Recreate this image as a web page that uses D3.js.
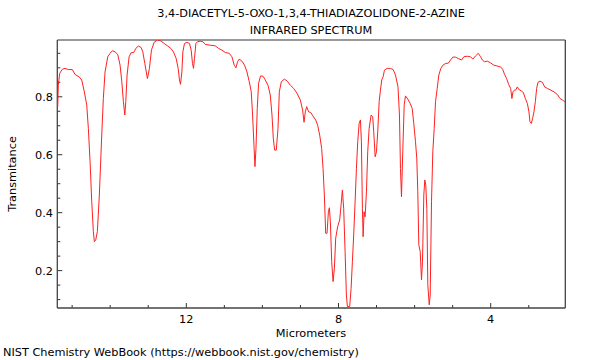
<!DOCTYPE html>
<html><head><meta charset="utf-8">
<script src="https://cdn.jsdelivr.net/npm/d3@7"></script>
<style>
body{margin:0;background:#fff}
text{font-family:"DejaVu Sans",sans-serif;font-size:11.3px;fill:#000}
</style></head>
<body><svg id="c" width="600" height="360"></svg>
<script>
const titleLines = ["3,4-DIACETYL-5-OXO-1,3,4-THIADIAZOLIDONE-2-AZINE", "INFRARED SPECTRUM"];
const xLabel = "Micrometers";
const yLabel = "Transmitance";
const footer = "NIST Chemistry WebBook (https://webbook.nist.gov/chemistry)";
const xTicks = [12, 8, 4];
const yTicks = [0.2, 0.4, 0.6, 0.8];

const micrometers = [15.379,15.364,15.327,15.258,15.187,15.101,14.995,14.924,14.819,14.748,14.679,14.616,14.574,14.529,14.485,14.443,14.416,14.380,14.337,14.285,14.222,14.180,14.135,14.064,14.003,13.943,13.872,13.801,13.740,13.695,13.653,13.616,13.590,13.556,13.503,13.451,13.380,13.327,13.258,13.187,13.143,13.090,13.022,12.969,12.916,12.845,12.758,12.669,12.582,12.495,12.406,12.337,12.266,12.214,12.179,12.153,12.116,12.090,12.048,11.985,11.916,11.872,11.837,11.811,11.785,11.748,11.706,11.635,11.564,11.503,11.372,11.240,11.153,11.064,10.977,10.872,10.801,10.740,10.695,10.653,10.608,10.537,10.469,10.406,10.345,10.293,10.258,10.222,10.195,10.169,10.135,10.101,10.048,9.985,9.924,9.853,9.793,9.748,9.714,9.679,9.635,9.590,9.556,9.503,9.424,9.345,9.266,9.179,9.090,9.003,8.943,8.906,8.872,8.837,8.785,8.732,8.674,8.600,8.548,8.495,8.443,8.406,8.372,8.337,8.301,8.266,8.240,8.214,8.179,8.143,8.108,8.074,8.022,7.969,7.932,7.898,7.864,7.827,7.793,7.766,7.706,7.669,7.635,7.601,7.564,7.529,7.495,7.458,7.424,7.398,7.372,7.353,7.327,7.301,7.266,7.232,7.195,7.143,7.101,7.074,7.037,7.003,6.969,6.932,6.898,6.864,6.827,6.793,6.722,6.635,6.564,6.503,6.437,6.398,6.372,6.345,6.311,6.274,6.240,6.179,6.116,6.064,6.022,5.977,5.943,5.916,5.890,5.853,5.819,5.793,5.758,5.732,5.706,5.679,5.653,5.616,5.590,5.556,5.522,5.485,5.451,5.406,5.364,5.311,5.258,5.187,5.116,5.056,4.995,4.924,4.853,4.766,4.706,4.616,4.529,4.469,4.398,4.327,4.266,4.214,4.161,4.090,4.003,3.916,3.827,3.740,3.687,3.635,3.582,3.529,3.477,3.443,3.416,3.379,3.345,3.301,3.258,3.195,3.143,3.090,3.037,2.995,2.969,2.932,2.898,2.864,2.827,2.793,2.758,2.706,2.643,2.582,2.511,2.424,2.337,2.248,2.179,2.116,2.056,2.022];
const transmittance = [0.766,0.840,0.881,0.895,0.898,0.894,0.894,0.877,0.869,0.858,0.817,0.771,0.691,0.576,0.438,0.335,0.300,0.306,0.335,0.461,0.668,0.794,0.886,0.938,0.950,0.959,0.955,0.946,0.909,0.852,0.783,0.737,0.783,0.875,0.938,0.952,0.953,0.967,0.975,0.970,0.955,0.915,0.863,0.898,0.961,0.988,0.996,0.993,0.984,0.976,0.967,0.955,0.932,0.898,0.858,0.843,0.886,0.955,0.984,0.988,0.984,0.961,0.915,0.898,0.932,0.984,0.990,0.992,0.990,0.981,0.978,0.976,0.967,0.961,0.953,0.950,0.938,0.909,0.900,0.921,0.930,0.923,0.909,0.886,0.852,0.817,0.737,0.633,0.559,0.622,0.760,0.846,0.872,0.871,0.858,0.840,0.806,0.737,0.657,0.616,0.616,0.691,0.817,0.852,0.861,0.854,0.840,0.829,0.812,0.789,0.754,0.712,0.748,0.766,0.748,0.746,0.734,0.720,0.702,0.668,0.622,0.553,0.461,0.329,0.329,0.403,0.417,0.369,0.231,0.162,0.208,0.312,0.352,0.375,0.427,0.478,0.415,0.266,0.116,0.076,0.076,0.139,0.231,0.323,0.438,0.553,0.645,0.708,0.720,0.645,0.415,0.317,0.403,0.386,0.472,0.610,0.691,0.737,0.731,0.679,0.593,0.610,0.679,0.783,0.823,0.858,0.869,0.892,0.898,0.898,0.894,0.875,0.835,0.737,0.553,0.455,0.610,0.771,0.803,0.792,0.777,0.760,0.708,0.645,0.588,0.472,0.289,0.266,0.168,0.231,0.461,0.513,0.495,0.415,0.151,0.082,0.116,0.438,0.610,0.691,0.783,0.829,0.875,0.898,0.909,0.915,0.916,0.927,0.937,0.937,0.932,0.927,0.938,0.940,0.938,0.930,0.941,0.950,0.938,0.926,0.921,0.923,0.917,0.909,0.906,0.903,0.895,0.877,0.863,0.843,0.829,0.794,0.817,0.823,0.823,0.834,0.825,0.820,0.815,0.794,0.777,0.748,0.714,0.708,0.726,0.748,0.783,0.829,0.850,0.854,0.850,0.834,0.829,0.823,0.817,0.808,0.794,0.789,0.783,0.777];

const L = 57.3, R = 565.3, T = 40, B = 308;
const x = d3.scaleLinear().domain([15.39, 2.04]).range([L, R]);
const y = d3.scaleLinear().domain([0.071, 0.996]).range([B, T]);
const svg = d3.select("#c");

svg.append("defs").append("clipPath").attr("id","clip")
  .append("rect").attr("x",L).attr("y",T).attr("width",R-L).attr("height",B-T);

// minor ticks
const minorX = d3.range(3, 16, 1);
const minorY = d3.range(0.1, 0.99, 0.05);
const g = svg.append("g");
// x ticks (inward)
g.selectAll(".mx").data(minorX).join("line")
  .attr("x1", d => x(d)).attr("x2", d => x(d))
  .attr("y1", B).attr("y2", d => xTicks.includes(d) ? B - 5 : B - 3)
  .attr("stroke", "#333").attr("stroke-width", 1);
g.selectAll(".my").data(minorY).join("line")
  .attr("y1", d => y(d)).attr("y2", d => y(d))
  .attr("x1", L).attr("x2", d => yTicks.some(t => Math.abs(t-d) < 1e-6) ? L + 5 : L + 3)
  .attr("stroke", "#333").attr("stroke-width", 1);

// tick labels
g.selectAll(".xl").data(xTicks).join("text")
  .attr("x", d => x(d)).attr("y", 323).attr("text-anchor", "middle").text(d => d);
g.selectAll(".yl").data(yTicks).join("text")
  .attr("x", 53).attr("y", d => y(d) + 4).attr("text-anchor", "end").text(d => d.toFixed(1));

// frame
svg.append("line").attr("x1", L).attr("x2", R).attr("y1", T).attr("y2", T).attr("stroke", "#999").attr("stroke-width", 2);
svg.append("line").attr("x1", L).attr("x2", L).attr("y1", T).attr("y2", B).attr("stroke", "#444").attr("stroke-width", 1.3);
svg.append("line").attr("x1", R).attr("x2", R).attr("y1", T).attr("y2", B).attr("stroke", "#444").attr("stroke-width", 1.3);
svg.append("line").attr("x1", L).attr("x2", R).attr("y1", B).attr("y2", B).attr("stroke", "#444").attr("stroke-width", 1.3);

// spectrum
const data = micrometers.map((m, i) => [m, transmittance[i]]);
svg.append("path").datum(data)
  .attr("clip-path", "url(#clip)")
  .attr("fill", "none").attr("stroke", "#ff2020").attr("stroke-width", 1)
  .attr("d", d3.line().x(d => x(d[0])).y(d => y(d[1])));

// texts
svg.append("text").attr("x", 311).attr("y", 17).attr("text-anchor", "middle").text(titleLines[0]);
svg.append("text").attr("x", 311).attr("y", 34).attr("text-anchor", "middle").text(titleLines[1]);
svg.append("text").attr("x", 311).attr("y", 337).attr("text-anchor", "middle").text(xLabel);
svg.append("text").attr("transform", "translate(16,174) rotate(-90)").attr("text-anchor", "middle").text(yLabel);
svg.append("text").attr("x", 3).attr("y", 356).text(footer);
</script></body></html>
